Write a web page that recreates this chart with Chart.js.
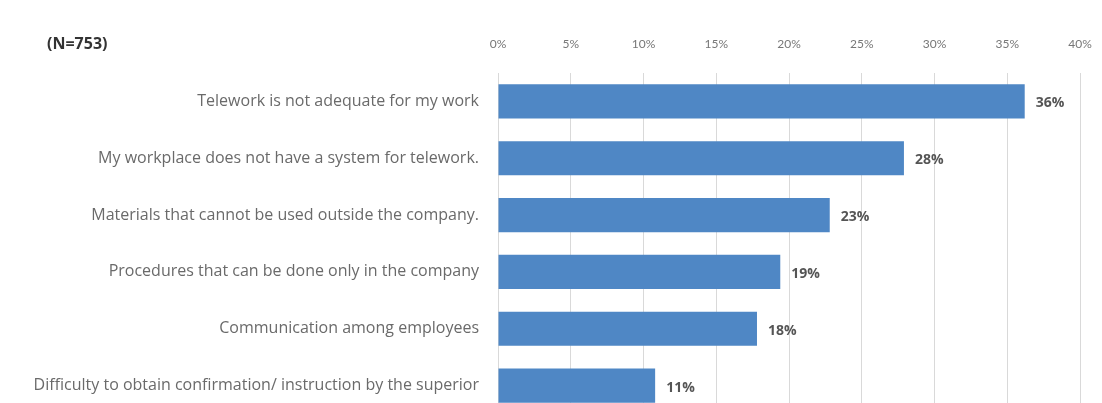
<!DOCTYPE html>
<html><head><meta charset="utf-8">
<script src="https://cdn.jsdelivr.net/npm/chart.js@4.4.1/dist/chart.umd.min.js"></script>
<style>
html,body{margin:0;padding:0;background:#fff;overflow:hidden;}
#wrap{position:absolute;left:0;top:0;width:1102px;height:414px;}
</style></head>
<body>
<div id="wrap"><canvas id="c" width="1102" height="414"></canvas></div>
<script>
const categories = [
  "Telework is not adequate for my work",
  "My workplace does not have a system for telework.",
  "Materials that cannot be used outside the company.",
  "Procedures that can be done only in the company",
  "Communication among employees",
  "Difficulty to obtain confirmation/ instruction by the superior"
];
const values = [36.2, 27.9, 22.8, 19.4, 17.8, 10.8];
const valueLabels = ["36%", "28%", "23%", "19%", "18%", "11%"];
const tickValues = [0, 5, 10, 15, 20, 25, 30, 35, 40];
const sampleNote = "(N=753)";

const PLOT_LEFT = 498, PLOT_TOP = 73;

const extras = {
  id: 'extras',
  afterDatasetsDraw(chart) {
    const ctx = chart.ctx;
    const meta = chart.getDatasetMeta(0);
    ctx.save();
    ctx.font = 'bold 14px "Open Sans"';
    ctx.fillStyle = '#555555';
    ctx.textAlign = 'left';
    ctx.textBaseline = 'middle';
    meta.data.forEach((bar, i) => {
      ctx.fillText(valueLabels[i], bar.x + 11, bar.y + 2);
    });
    ctx.font = 'bold 16px "Open Sans"';
    ctx.fillStyle = '#333333';
    ctx.fillText(sampleNote, 47, 44);
    ctx.restore();
  }
};

new Chart(document.getElementById('c'), {
  type: 'bar',
  data: {
    labels: categories,
    datasets: [{
      data: values,
      backgroundColor: '#4f87c5',
      borderWidth: 0,
      barPercentage: 0.6,
      categoryPercentage: 1.0
    }]
  },
  options: {
    indexAxis: 'y',
    responsive: false,
    animation: false,
    layout: { padding: { left: 0, right: 22, top: 0, bottom: 0 } },
    plugins: { legend: { display: false }, tooltip: { enabled: false } },
    scales: {
      x: {
        position: 'top',
        min: 0, max: 40,
        afterBuildTicks(scale) { scale.ticks = tickValues.map(v => ({ value: v })); },
        afterFit(scale) { scale.height = PLOT_TOP; scale.paddingLeft = 0; scale.paddingRight = 0; },
        grid: { color: '#d9d9d9', drawTicks: false },
        border: { display: false },
        ticks: {
          callback: v => v + '%',
          color: '#777777',
          font: { family: 'Lato', size: 12 },
          padding: 22,
          maxRotation: 0
        }
      },
      y: {
        afterFit(scale) { scale.width = PLOT_LEFT; scale.paddingTop = 0; scale.paddingBottom = 0; },
        grid: { display: false, drawTicks: false },
        border: { display: false },
        ticks: {
          color: '#6a6a6a',
          font: { family: 'Open Sans', size: 16 },
          padding: 19,
          crossAlign: 'near'
        }
      }
    }
  },
  plugins: [extras]
});
</script>
</body></html>
